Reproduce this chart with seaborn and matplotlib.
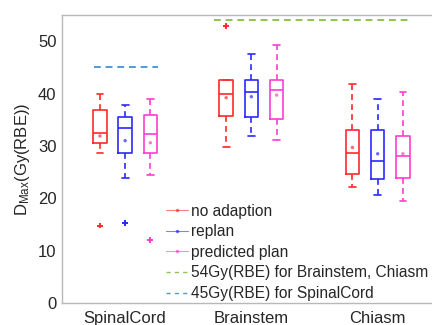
import matplotlib
matplotlib.use("Agg")
import matplotlib.pyplot as plt
from matplotlib.lines import Line2D
import seaborn as sns
import pandas as pd

# ---- data ----
organs = ["SpinalCord", "Brainstem", "Chiasm"]
plans = ["no adaption", "replan", "predicted plan"]
plan_colors = ["#ff2a2a", "#2a2aff", "#ff3ccf"]

# per organ, per plan: [whisker low, Q1, median, Q3, whisker high]
spinal_stats = [[28.6, 30.5, 32.4, 36.9, 40.0],
                [23.9, 28.6, 33.5, 35.6, 37.8],
                [24.5, 28.6, 32.3, 35.9, 38.9]]
brainstem_stats = [[29.7, 35.7, 39.9, 42.5, 42.5],
                   [31.9, 35.6, 40.2, 42.5, 47.6],
                   [31.2, 35.2, 40.6, 42.5, 49.3]]
chiasm_stats = [[22.2, 24.6, 28.6, 33.0, 41.9],
                [20.7, 23.6, 27.2, 33.0, 39.0],
                [19.4, 23.9, 28.0, 31.9, 40.2]]

spinal_means = [31.9, 31.0, 30.6]
brainstem_means = [39.2, 39.4, 39.7]
chiasm_means = [29.7, 28.5, 28.5]

# outliers: (organ index, plan index, value)
outlier_organ = [0, 0, 0, 1]
outlier_plan = [0, 1, 2, 0]
outlier_value = [14.8, 15.2, 12.1, 52.9]

limit_brain_chiasm = 54
limit_spinal = 45
limit_labels = ["54Gy(RBE) for Brainstem, Chiasm", "45Gy(RBE) for SpinalCord"]
limit_colors = ["#8fc550", "#4f9ad8"]

yticks = [0, 10, 20, 30, 40, 50]

# ---- style ----
sns.set_style("white")
plt.rcParams["font.family"] = ["Liberation Sans", "DejaVu Sans"]
plt.rcParams["mathtext.fontset"] = "custom"
plt.rcParams["mathtext.rm"] = "Liberation Sans"
plt.rcParams["mathtext.it"] = "Liberation Sans"

fig = plt.figure(figsize=(4.32, 3.25), dpi=100)
ax = fig.add_axes([62 / 432, 22 / 325, 378.8 / 432, 288 / 325])

all_stats = [spinal_stats, brainstem_stats, chiasm_stats]
all_means = [spinal_means, brainstem_means, chiasm_means]
offsets = [-0.2, 0.0, 0.2]
box_w = 0.107

mean_rows = []
for oi, organ in enumerate(organs):
    for pi, plan in enumerate(plans):
        lo, q1, med, q3, hi = all_stats[oi][pi]
        pos = oi + 1 + offsets[pi]
        c = plan_colors[pi]
        ax.bxp([{"whislo": lo, "q1": q1, "med": med, "q3": q3, "whishi": hi, "fliers": []}],
               positions=[pos], widths=box_w, capwidths=box_w * 0.5,
               showfliers=False, manage_ticks=False,
               boxprops=dict(color=c, linewidth=1.2),
               medianprops=dict(color=c, linewidth=1.2),
               whiskerprops=dict(color=c, linewidth=1.2, linestyle=(0, (3.5, 2.5))),
               capprops=dict(color=c, linewidth=1.2))
        mean_rows.append({"x": pos, "y": all_means[oi][pi], "plan": plan})

means_df = pd.DataFrame(mean_rows)
sns.scatterplot(data=means_df, x="x", y="y", hue="plan", palette=plan_colors,
                hue_order=plans, s=6, marker="o", linewidth=0, alpha=0.7,
                legend=False, ax=ax)

out_df = pd.DataFrame({
    "x": [outlier_organ[i] + 1 + offsets[outlier_plan[i]] for i in range(len(outlier_value))],
    "y": outlier_value,
    "plan": [plans[p] for p in outlier_plan],
})
sns.scatterplot(data=out_df, x="x", y="y", hue="plan", palette=plan_colors,
                hue_order=plans, s=18, marker="+", linewidth=1.4,
                legend=False, ax=ax)

ax.plot([1.7, 3.25], [limit_brain_chiasm] * 2, color=limit_colors[0],
        linestyle=(0, (3.5, 2.5)), linewidth=1.4)
ax.plot([0.75, 1.26], [limit_spinal] * 2, color=limit_colors[1],
        linestyle=(0, (3.5, 2.5)), linewidth=1.4)

ax.set_xlim(0.5, 3.5)
ax.set_ylim(0, 55)
ax.set_xticks([1, 2, 3])
ax.set_xticklabels(organs)
ax.set_yticks(yticks)
ax.set_xlabel("")
ax.set_ylabel(r"D$_{\mathrm{Max}}$(Gy(RBE))", fontsize=12, color="#262626", labelpad=4)
ax.tick_params(axis="y", direction="in", length=3, color="#a0a0a0", labelsize=12,
               labelcolor="#262626", pad=4)
ax.tick_params(axis="x", length=0, labelsize=12, labelcolor="#262626", pad=6)
for s in ["left", "bottom", "top"]:
    ax.spines[s].set_color("#b8b8b8")
    ax.spines[s].set_linewidth(1.0)
ax.spines["right"].set_visible(False)

handles = [Line2D([0], [0], color=plan_colors[i], lw=0.8, alpha=0.6, marker=".",
                  markersize=3) for i in range(3)]
handles += [Line2D([0], [0], color=limit_colors[i], lw=1.0, linestyle=(0, (3, 3)))
            for i in range(2)]
leg = ax.legend(handles, plans + limit_labels, loc="lower left",
                bbox_to_anchor=(104 / 378.8, 2 / 288), frameon=False, fontsize=11.2,
                handlelength=1.4, handletextpad=0.22, labelspacing=0.36,
                borderaxespad=0, borderpad=0)
for t in leg.get_texts():
    t.set_color("#262626")

fig.savefig("out.png", dpi=100)
